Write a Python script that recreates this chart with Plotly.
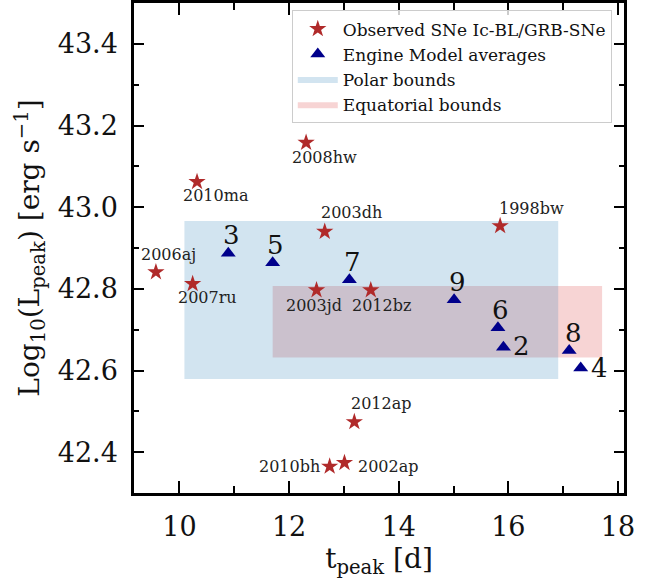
import plotly.graph_objects as go

# ---------------- data ----------------
sn_names = ["2008hw", "2010ma", "2003dh", "1998bw", "2006aj", "2007ru",
            "2003jd", "2012bz", "2012ap", "2010bh", "2002ap"]
sn_tpeak = [12.31, 10.32, 12.65, 15.85, 9.57, 10.24, 12.50, 13.49, 13.19, 12.74, 13.01]
sn_lpeak = [43.158, 43.062, 42.940, 42.954, 42.841, 42.812, 42.797, 42.797, 42.474, 42.365, 42.374]

model_ids = ["3", "5", "7", "9", "6", "2", "8", "4"]
model_tpeak = [10.89, 11.70, 13.10, 15.01, 15.81, 15.91, 17.11, 17.32]
model_lpeak = [42.887, 42.864, 42.822, 42.773, 42.705, 42.657, 42.649, 42.606]

polar_t = [10.09, 16.91]
polar_l = [42.579, 42.966]
equat_t = [11.70, 17.71]
equat_l = [42.632, 42.807]

x_range = [9.17, 18.11]
y_range = [42.30, 43.50]

# label placement (pixel shifts, style only)
sn_label_shift = {
    "2008hw": (18, -15, "center"), "2010ma": (19, -14, "center"),
    "2003dh": (27, 19, "center"), "1998bw": (31, 17, "center"),
    "2006aj": (13, 18, "center"), "2007ru": (15, -14, "center"),
    "2003jd": (-3, -15, "center"), "2012bz": (11, -15, "center"),
    "2012ap": (27, 18, "center"), "2010bh": (-8, 0, "right"),
    "2002ap": (12, -4, "left"),
}
model_label_shift = {
    "3": (3, 18, "center"), "5": (3, 18, "center"), "7": (3, 18, "center"),
    "9": (3, 18, "center"), "6": (3, 18, "center"), "2": (8, 1, "left"),
    "8": (4, 17, "center"), "4": (8, 0, "left"),
}

FONT = "DejaVu Serif"
STAR_C = "#b02a2a"
TRI_C = "#00008b"

fig = go.Figure()

def rect(t, l):
    return [t[0], t[1], t[1], t[0], t[0]], [l[0], l[0], l[1], l[1], l[0]]

ex, ey = rect(equat_t, equat_l)
fig.add_trace(go.Scatter(x=ex, y=ey, fill="toself", mode="lines",
                         line=dict(width=0), fillcolor="rgba(214,39,40,0.2)",
                         name="Equatorial bounds", legendrank=4, hoverinfo="skip"))
px_, py_ = rect(polar_t, polar_l)
fig.add_trace(go.Scatter(x=px_, y=py_, fill="toself", mode="lines",
                         line=dict(width=0), fillcolor="rgba(31,119,180,0.2)",
                         name="Polar bounds", legendrank=3, hoverinfo="skip"))

fig.add_trace(go.Scatter(x=sn_tpeak, y=sn_lpeak, mode="markers",
                         marker=dict(symbol="star", size=13, color=STAR_C, line=dict(width=0)),
                         name="Observed SNe Ic-BL/GRB-SNe", legendrank=1))
fig.add_trace(go.Scatter(x=model_tpeak, y=model_lpeak, mode="markers",
                         marker=dict(symbol="triangle-up", size=13, color=TRI_C, line=dict(width=0)),
                         name="Engine Model averages", legendrank=2))

for n, t, l in zip(sn_names, sn_tpeak, sn_lpeak):
    dx, dy, anc = sn_label_shift[n]
    fig.add_annotation(x=t, y=l, text=n, showarrow=False, xshift=dx, yshift=dy,
                       xanchor=anc, yanchor="middle",
                       font=dict(family=FONT, size=16, color="#222"))
for n, t, l in zip(model_ids, model_tpeak, model_lpeak):
    dx, dy, anc = model_label_shift[n]
    fig.add_annotation(x=t, y=l, text=n, showarrow=False, xshift=dx, yshift=dy,
                       xanchor=anc, yanchor="middle",
                       font=dict(family=FONT, size=26, color="#111"))

axis_common = dict(showline=True, linecolor="black", linewidth=2.5, mirror="allticks",
                   ticks="inside", tickcolor="black", tickwidth=2, showgrid=False,
                   zeroline=False, tickfont=dict(family=FONT, size=27, color="#111"),
                   ticklabelstandoff=8)

fig.update_xaxes(range=x_range, tickvals=[10, 12, 14, 16, 18], ticklen=12,
                 minor=dict(ticks="inside", tickvals=[11, 13, 15, 17], ticklen=7,
                            tickwidth=2, tickcolor="black"),
                 title=dict(text="t<sub>peak</sub> [d]", standoff=0,
                            font=dict(family=FONT, size=28, color="#111")),
                 **axis_common)
fig.update_yaxes(range=y_range, tickvals=[42.4, 42.6, 42.8, 43.0, 43.2, 43.4],
                 ticktext=["42.4", "42.6", "42.8", "43.0", "43.2", "43.4"], ticklen=10,
                 minor=dict(ticks="inside", tickvals=[42.3, 42.5, 42.7, 42.9, 43.1, 43.3, 43.5],
                            ticklen=5, tickwidth=2, tickcolor="black"),
                 title=dict(text="Log<sub>10</sub>(L<sub>peak</sub>) [erg s<sup>−1</sup>]",
                            standoff=10, font=dict(family=FONT, size=28, color="#111")),
                 **axis_common)

fig.update_layout(
    width=662, height=579,
    margin=dict(l=134, r=38, t=3, b=86, autoexpand=False),
    plot_bgcolor="white", paper_bgcolor="white",
    font=dict(family=FONT),
    showlegend=True,
    legend=dict(x=0.322, y=0.985, xanchor="left", yanchor="top",
                bgcolor="rgba(255,255,255,0.8)", bordercolor="#cccccc", borderwidth=1,
                font=dict(family=FONT, size=17, color="#111"),
                itemwidth=40, tracegroupgap=0),
)

fig.write_html("out.html", post_script="document.body.style.margin='0';",
               config={"displayModeBar": False})
